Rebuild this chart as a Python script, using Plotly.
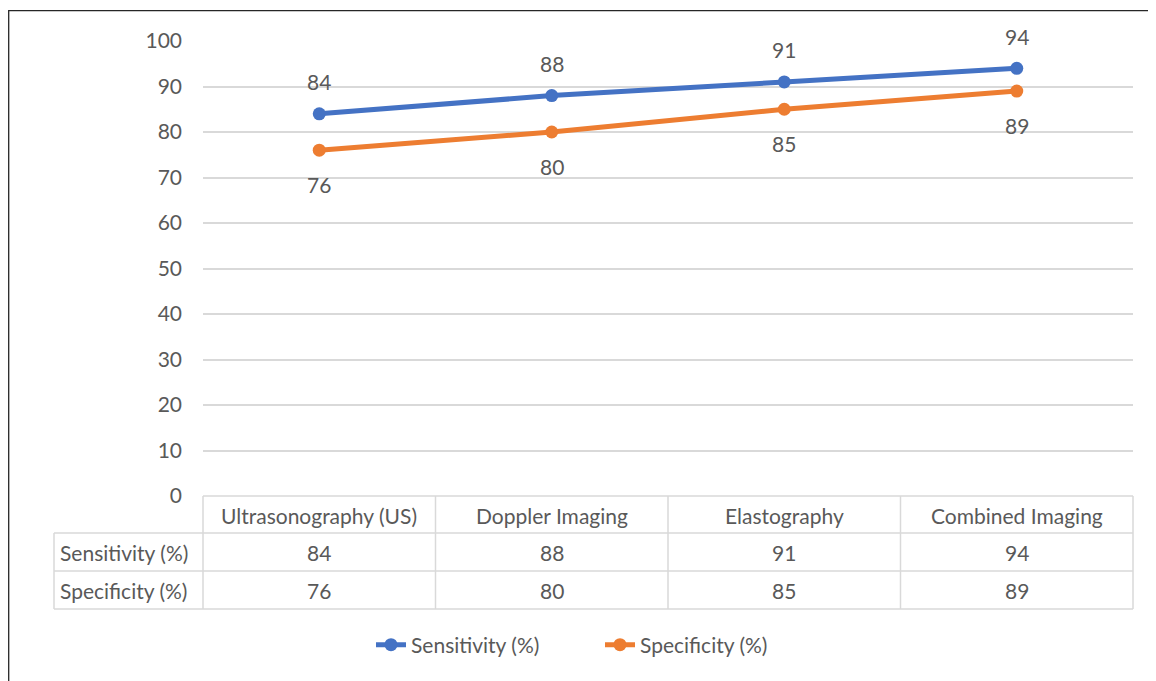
import plotly.graph_objects as go

categories = ["Ultrasonography (US)", "Doppler Imaging", "Elastography", "Combined Imaging"]
sensitivity = [84, 88, 91, 94]
specificity = [76, 80, 85, 89]
series_names = ["Sensitivity (%)", "Specificity (%)"]
y_ticks = [0, 10, 20, 30, 40, 50, 60, 70, 80, 90, 100]

BLUE = "#4472C4"
ORANGE = "#ED7D31"
TXT = "#595959"
GRID = "#D9D9D9"
FONT = "Lato"
FS = 21

OFF = 8  # page body margin
W, H = 1156 - OFF, 681 - OFF
L, R, T, B = 203 - OFF, 23, 41 - OFF, 185
PW = W - L - R
PH = H - T - B

def px(xs_):
    return (xs_ - OFF - L) / PW

def py(ys_):
    return (H - B - (ys_ - OFF)) / PH

xs = list(range(len(categories)))

fig = go.Figure()
for name, vals, col in [(series_names[0], sensitivity, BLUE), (series_names[1], specificity, ORANGE)]:
    fig.add_trace(go.Scatter(
        x=xs, y=vals, name=name, mode="lines+markers",
        line=dict(color=col, width=5),
        marker=dict(color=col, size=13),
        cliponaxis=False,
    ))

annotations = []
for i, v in enumerate(sensitivity):
    annotations.append(dict(x=i, y=v, xref="x", yref="y", text=str(v), showarrow=False,
                            yshift=32, font=dict(family=FONT, size=FS, color=TXT)))
for i, v in enumerate(specificity):
    annotations.append(dict(x=i, y=v, xref="x", yref="y", text=str(v), showarrow=False,
                            yshift=-34, font=dict(family=FONT, size=FS, color=TXT)))

row_y = [515, 552, 590]
for i, c in enumerate(categories):
    annotations.append(dict(x=i, y=py(row_y[0]), xref="x", yref="paper", text=c, showarrow=False,
                            yanchor="middle", font=dict(family=FONT, size=FS, color=TXT)))
for r, (name, vals) in enumerate([(series_names[0], sensitivity), (series_names[1], specificity)]):
    yy = py(row_y[r + 1])
    annotations.append(dict(x=px(58), y=yy, xref="paper", yref="paper", text=name, showarrow=False,
                            xanchor="left", yanchor="middle", font=dict(family=FONT, size=FS, color=TXT)))
    for i, v in enumerate(vals):
        annotations.append(dict(x=i, y=yy, xref="x", yref="paper", text=str(v), showarrow=False,
                                yanchor="middle", font=dict(family=FONT, size=FS, color=TXT)))

shapes = []
lw = 1.5
n = len(categories)
shapes.append(dict(type="line", xref="paper", yref="paper", x0=0, x1=1, y0=0, y1=0, line=dict(color=GRID, width=lw)))
for yl in [533, 571, 609]:
    shapes.append(dict(type="line", xref="paper", yref="paper", x0=px(54), x1=1, y0=py(yl), y1=py(yl),
                       line=dict(color=GRID, width=lw)))
for k in range(n + 1):
    shapes.append(dict(type="line", xref="paper", yref="paper", x0=k / n, x1=k / n, y0=0, y1=py(609),
                       line=dict(color=GRID, width=lw)))
shapes.append(dict(type="line", xref="paper", yref="paper", x0=px(54), x1=px(54), y0=py(533), y1=py(609),
                   line=dict(color=GRID, width=lw)))
shapes.append(dict(type="rect", xref="paper", yref="paper", x0=px(8.7), x1=px(1180), y0=py(720), y1=py(10.7),
                   line=dict(color="#262626", width=1.3), fillcolor="rgba(0,0,0,0)", layer="below"))

fig.update_layout(
    width=W, height=H,
    margin=dict(l=L, r=R, t=T, b=B, pad=0),
    paper_bgcolor="white", plot_bgcolor="white",
    font=dict(family=FONT, size=FS, color=TXT),
    xaxis=dict(range=[-0.5, n - 0.5], showticklabels=False, showgrid=False, zeroline=False,
               showline=False, ticks="", fixedrange=True),
    yaxis=dict(range=[0, 100], tickvals=y_ticks, showgrid=True, gridcolor=GRID, gridwidth=1.5,
               zeroline=False, showline=False, ticks="", ticklabelstandoff=20,
               tickfont=dict(family=FONT, size=FS, color=TXT)),
    showlegend=True,
    legend=dict(orientation="h", x=px(371), xanchor="left", y=py(645), yanchor="middle",
                font=dict(family=FONT, size=FS, color=TXT), entrywidth=184, entrywidthmode="pixels",
                bgcolor="rgba(0,0,0,0)"),
    annotations=annotations,
    shapes=shapes,
)

fig.write_html("out.html")
